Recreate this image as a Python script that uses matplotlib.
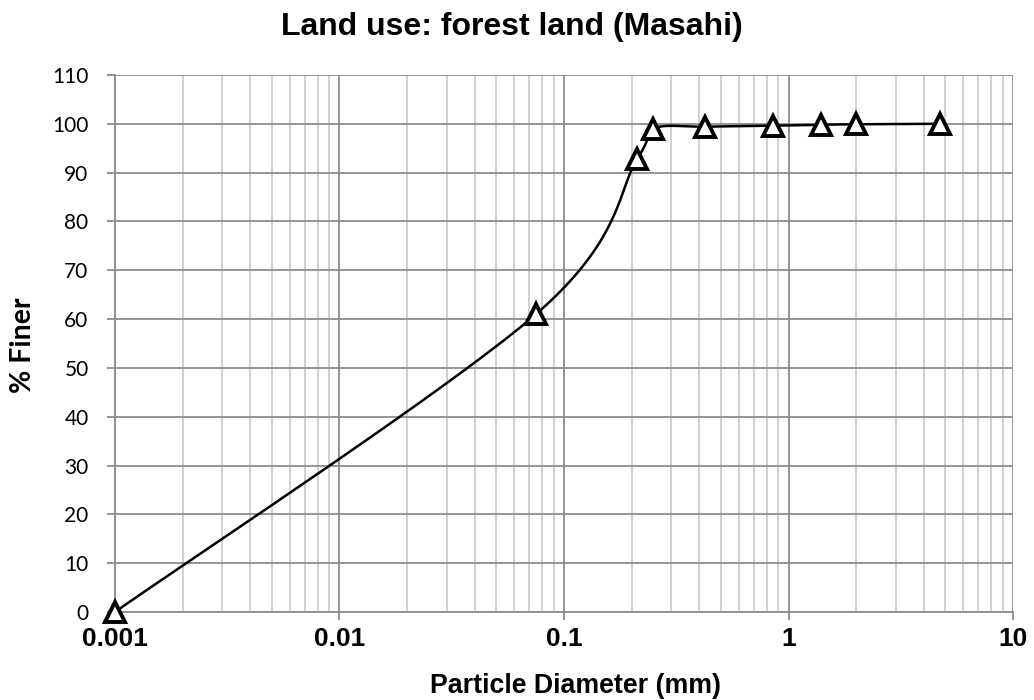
import numpy as np
import matplotlib.pyplot as plt
from matplotlib.ticker import LogLocator, FixedLocator, NullFormatter, FuncFormatter

plt.rcParams['font.family'] = ['Liberation Sans', 'DejaVu Sans']

# Sieve / hydrometer data
diameter = [0.001, 0.075, 0.212, 0.25, 0.425, 0.85, 1.4, 2.0, 4.75]
finer = [0.0, 61.0, 92.8, 99.0, 99.4, 99.6, 99.8, 99.9, 100.0]

x_ticks = [0.001, 0.01, 0.1, 1, 10]
x_labels = ['0.001', '0.01', '0.1', '1', '10']
y_ticks = list(range(0, 111, 10))

fig = plt.figure(figsize=(10.34, 7.0), dpi=100)
ax = fig.add_axes([0.1112, 0.1257, 0.8685, 0.7672])
ax.set_xscale('log')
ax.set_xlim(0.001, 10)
ax.set_ylim(0, 110)


# Excel-like smoothed line (bezier through points, in screen-proportional space)
def smooth_line(xs, ys, n=40):
    u = (np.log10(xs) + 3) / 4 * 898
    v = np.asarray(ys) / 110 * 537
    pts = np.column_stack([u, v])
    out = []
    for i in range(len(pts) - 1):
        p0 = pts[i - 1] if i > 0 else pts[i]
        p1, p2 = pts[i], pts[i + 1]
        p3 = pts[i + 2] if i + 2 < len(pts) else pts[i + 1]
        c1 = p1 + (p2 - p0) / 6
        c2 = p2 - (p3 - p1) / 6
        t = np.linspace(0, 1, n)[:, None]
        seg = ((1 - t) ** 3) * p1 + 3 * ((1 - t) ** 2) * t * c1 + 3 * (1 - t) * t ** 2 * c2 + t ** 3 * p2
        out.append(seg)
    out = np.vstack(out)
    return 10 ** (out[:, 0] / 898 * 4 - 3), out[:, 1] / 537 * 110


sx, sy = smooth_line(diameter, finer)
ax.plot(sx, sy, color='black', lw=1.8, zorder=3, clip_on=False)
ax.plot(diameter, finer, ls='none', marker='^', ms=14, mfc='white', mec='black',
        mew=2.8, zorder=4, clip_on=False)

# grid
ax.xaxis.set_major_locator(FixedLocator(x_ticks))
ax.xaxis.set_major_formatter(FuncFormatter(lambda v, p: x_labels[x_ticks.index(v)] if v in x_ticks else ''))
ax.xaxis.set_minor_locator(LogLocator(base=10, subs=np.arange(2, 10)))
ax.xaxis.set_minor_formatter(NullFormatter())
ax.set_yticks(y_ticks)
ax.grid(which='major', axis='both', color='#8c8c8c', lw=1.3, zorder=0)
ax.grid(which='minor', axis='x', color='#c4c4c4', lw=1.1, zorder=0)
ax.set_axisbelow(True)

for s in ['top', 'right']:
    ax.spines[s].set_visible(False)
ax.spines['left'].set_color('#8c8c8c')
ax.spines['bottom'].set_color('#8c8c8c')
ax.spines['left'].set_linewidth(1.3)
ax.spines['bottom'].set_linewidth(1.3)

ax.tick_params(axis='x', which='major', length=6, color='#8c8c8c', width=1.3,
               labelsize=19, pad=5)
ax.tick_params(axis='x', which='minor', length=0)
ax.tick_params(axis='y', length=6, color='#8c8c8c', width=1.3, labelsize=15, pad=13)
for lbl in ax.get_xticklabels():
    lbl.set_fontweight('bold')
for lbl in ax.get_yticklabels():
    lbl.set_fontfamily(['Lato', 'DejaVu Sans'])

fig.text(575 / 1034, 1 - 693 / 700, 'Particle Diameter (mm)', fontsize=19.3,
         fontweight='bold', ha='center', va='baseline')
fig.text(23 / 1034, 1 - 345 / 700, '% Finer', fontsize=20.5, fontweight='bold',
         family=['Lato', 'DejaVu Sans'], rotation=90, ha='center', va='center')
fig.text(512 / 1034, 1 - 35 / 700, 'Land use: forest land (Masahi)', fontsize=23,
         fontweight='bold', ha='center', va='baseline')

fig.savefig('out.png', dpi=100)
